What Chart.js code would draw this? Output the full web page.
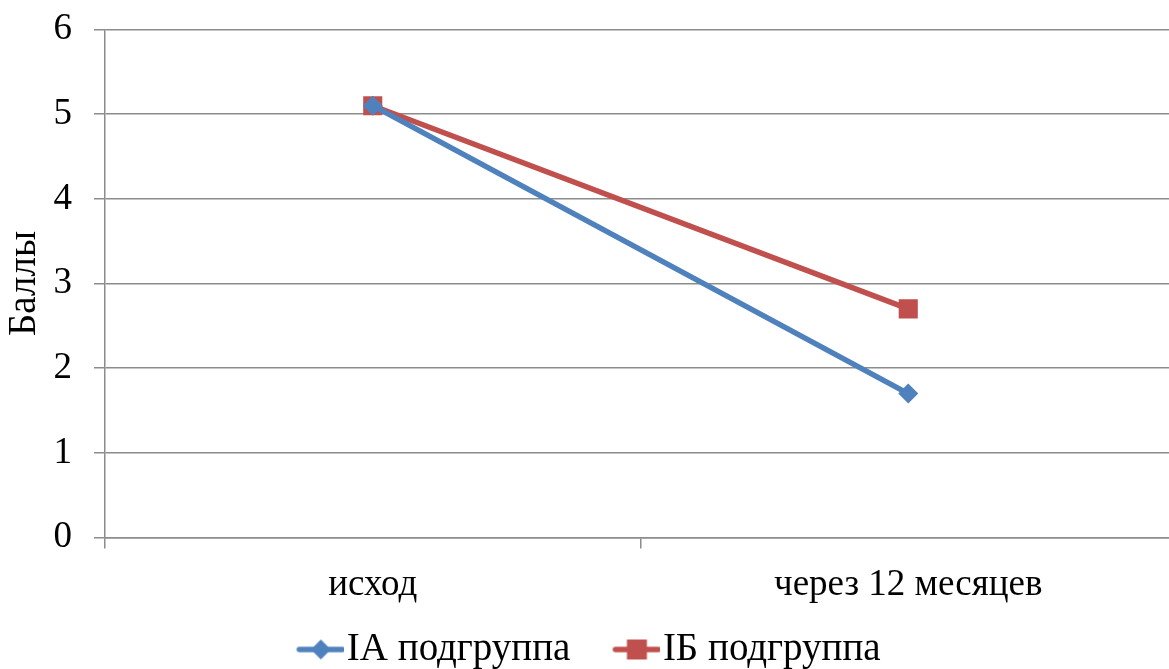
<!DOCTYPE html>
<html>
<head>
<meta charset="utf-8">
<script src="https://cdn.jsdelivr.net/npm/chart.js@4/dist/chart.umd.min.js"></script>
<style>
  html, body { margin: 0; padding: 0; background: #fff; overflow: hidden; }
  #wrap { width: 1190px; height: 690px; }
</style>
</head>
<body>
<div id="wrap"><canvas id="c" width="1190" height="690"></canvas></div>
<script>
const categories = ['исход', 'через 12 месяцев'];
const seriesIA = [5.1, 1.7];
const seriesIB = [5.1, 2.7];
const seriesNames = ['IA подгруппа', 'IБ подгруппа'];
const yTitle = 'Баллы';

const BLUE = '#4F81BD';
const RED = '#C0504D';
const GRID = '#8c8c8c';
const FONT = '"Liberation Serif", "Times New Roman", serif';

// Legend swatch: short line with the series marker in the middle,
// placed in the right part of the image so it sits close to the text
function swatch(color, shape) {
  const cv = document.createElement('canvas');
  cv.width = 66; cv.height = 24;
  const g = cv.getContext('2d');
  const x0 = 19, x1 = 66, cx = (x0 + x1) / 2, cy = 12;
  g.strokeStyle = color; g.lineWidth = 5.5; g.lineCap = 'round';
  g.beginPath(); g.moveTo(x0 + 2, cy); g.lineTo(x1 - 2, cy); g.stroke();
  g.fillStyle = color;
  if (shape === 'diamond') {
    g.beginPath(); g.moveTo(cx, cy - 10); g.lineTo(cx + 10, cy); g.lineTo(cx, cy + 10); g.lineTo(cx - 10, cy); g.closePath(); g.fill();
  } else {
    g.fillRect(cx - 10, cy - 10, 20, 20);
  }
  return cv;
}
const swatches = [swatch(BLUE, 'diamond'), swatch(RED, 'square')];

new Chart(document.getElementById('c'), {
  type: 'line',
  data: {
    labels: categories,
    datasets: [
      {
        label: seriesNames[0], data: seriesIA,
        borderColor: BLUE, backgroundColor: BLUE, borderWidth: 5.5,
        pointStyle: 'rectRot', pointRadius: 10, pointHoverRadius: 10,
        pointBorderWidth: 0, tension: 0
      },
      {
        label: seriesNames[1], data: seriesIB,
        borderColor: RED, backgroundColor: RED, borderWidth: 5.5,
        pointStyle: 'rect', pointRadius: 13.5, pointHoverRadius: 13.5,
        pointBorderWidth: 0, tension: 0
      }
    ]
  },
  options: {
    responsive: false,
    animation: false,
    events: [],
    layout: { padding: { top: 29.5, right: 14, left: 0, bottom: 11 } },
    scales: {
      x: {
        type: 'category',
        offset: true,
        grid: { display: true, drawOnChartArea: false, offset: true, tickLength: 11, color: GRID, lineWidth: 1.5 },
        border: { display: true, color: GRID, width: 1.5 },
        ticks: { color: '#000', font: { family: FONT, size: 37 }, padding: 15 },
        afterFit(scale) {
          scale.height = 90.5;
          scale.paddingLeft = 0;
          scale.paddingRight = 0;
        }
      },
      y: {
        min: 0, max: 6,
        grid: { color: GRID, lineWidth: 1.5, tickLength: 11 },
        border: { display: true, color: GRID, width: 1.5 },
        ticks: { stepSize: 1, color: '#000', font: { family: FONT, size: 37 }, padding: 22 },
        title: { display: true, text: yTitle, color: '#000', font: { family: FONT, size: 39, lineHeight: 1.28 }, padding: { top: 0, bottom: 0 } },
        afterFit(scale) {
          scale.width = 105;
          scale.paddingTop = 0;
          scale.paddingBottom = 0;
        }
      }
    },
    plugins: {
      tooltip: { enabled: false },
      legend: {
        position: 'bottom',
        labels: {
          color: '#000',
          font: { family: FONT, size: 39 },
          usePointStyle: true,
          pointStyleWidth: 32,
          padding: 2,
          generateLabels(chart) {
            return chart.data.datasets.map((ds, i) => ({
              text: i === 0 ? ds.label + '    ' : ds.label,
              fillStyle: ds.borderColor,
              strokeStyle: ds.borderColor,
              lineWidth: 0,
              pointStyle: swatches[i],
              hidden: false,
              datasetIndex: i,
              fontColor: '#000'
            }));
          }
        }
      }
    }
  }
});
</script>
</body>
</html>
